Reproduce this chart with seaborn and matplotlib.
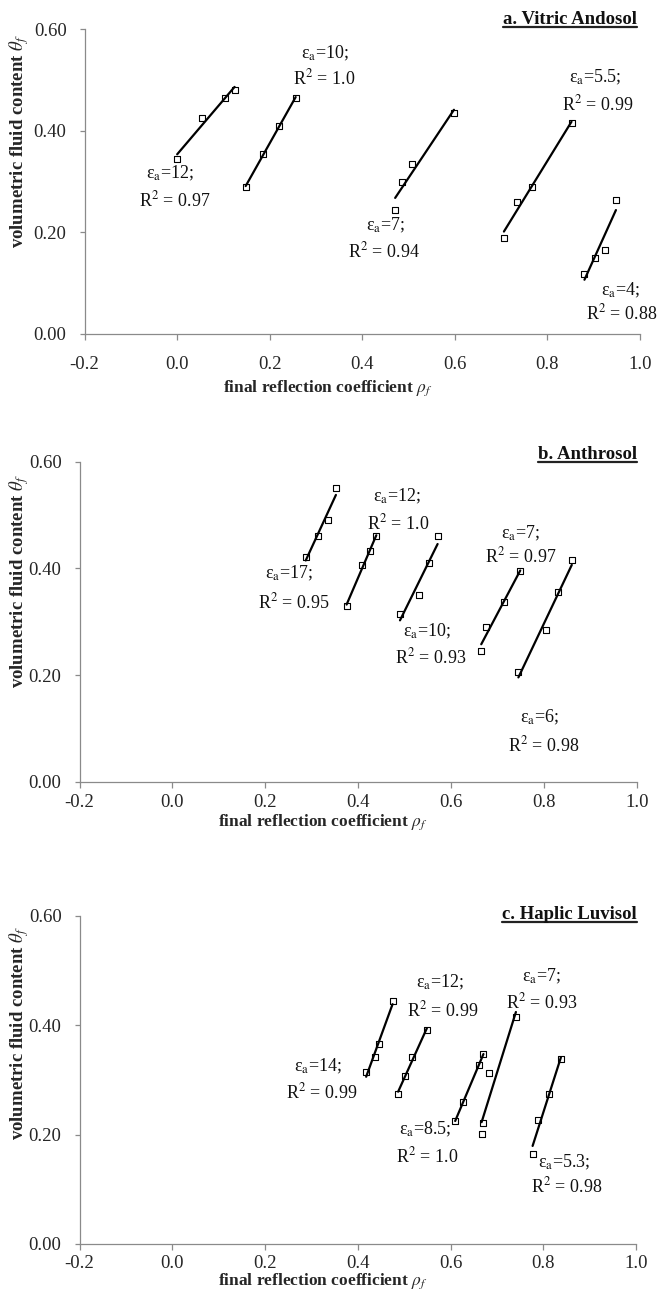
import numpy as np
import pandas as pd
import matplotlib
matplotlib.use("Agg")
import matplotlib.pyplot as plt
from matplotlib.lines import Line2D
from matplotlib.ticker import FormatStrFormatter
import seaborn as sns

# ---------------- data ----------------
a_title = "a. Vitric Andosol"
a_eps = ["12", "10", "7", "5.5", "4"]
a_r2 = ["0.97", "1.0", "0.94", "0.99", "0.88"]
a_x = [[0.000, 0.053, 0.104, 0.124],
       [0.148, 0.186, 0.221, 0.256],
       [0.471, 0.485, 0.507, 0.598],
       [0.706, 0.735, 0.766, 0.852],
       [0.880, 0.902, 0.924, 0.948]]
a_y = [[0.345, 0.425, 0.465, 0.480],
       [0.289, 0.355, 0.410, 0.465],
       [0.244, 0.299, 0.334, 0.435],
       [0.189, 0.260, 0.289, 0.415],
       [0.118, 0.149, 0.164, 0.264]]

b_title = "b. Anthrosol"
b_eps = ["17", "12", "10", "7", "6"]
b_r2 = ["0.95", "1.0", "0.93", "0.97", "0.98"]
b_x = [[0.287, 0.313, 0.335, 0.352],
       [0.375, 0.409, 0.425, 0.439],
       [0.490, 0.531, 0.553, 0.571],
       [0.665, 0.675, 0.715, 0.749],
       [0.745, 0.805, 0.831, 0.860]]
b_y = [[0.421, 0.460, 0.491, 0.550],
       [0.330, 0.406, 0.433, 0.460],
       [0.315, 0.351, 0.411, 0.460],
       [0.245, 0.290, 0.337, 0.396],
       [0.205, 0.285, 0.355, 0.416]]

c_title = "c. Haplic Luvisol"
c_eps = ["14", "12", "8.5", "7", "5.3"]
c_r2 = ["0.99", "0.99", "1.0", "0.93", "0.98"]
c_x = [[0.418, 0.437, 0.446, 0.475],
       [0.487, 0.502, 0.517, 0.549],
       [0.610, 0.627, 0.661, 0.671],
       [0.667, 0.671, 0.684, 0.741],
       [0.777, 0.788, 0.813, 0.838]]
c_y = [[0.314, 0.342, 0.366, 0.444],
       [0.274, 0.308, 0.342, 0.391],
       [0.225, 0.259, 0.328, 0.347],
       [0.201, 0.221, 0.313, 0.415],
       [0.165, 0.226, 0.275, 0.338]]

x_ticks = [-0.2, 0.0, 0.2, 0.4, 0.6, 0.8, 1.0]
y_ticks = [0.0, 0.2, 0.4, 0.6]
x_label = r"final reflection coefficient $\rho_f$"
y_label = r"volumetric fluid content $\theta_f$"

# ---------------- layout (label anchors in data units) ----------------
a_lab = [((-0.015, 0.316), (-0.005, 0.263)), ((0.319, 0.553), (0.318, 0.504)),
         ((0.450, 0.214), (0.447, 0.161)), ((0.903, 0.506), (0.908, 0.452)),
         ((0.957, 0.085), (0.960, 0.039))]
b_lab = [((0.250, 0.391), (0.260, 0.337)), ((0.483, 0.534), (0.486, 0.484)),
         ((0.548, 0.281), (0.555, 0.234)), ((0.749, 0.466), (0.749, 0.422)),
         ((0.790, 0.120), (0.800, 0.069))]
c_lab = [((0.315, 0.325), (0.322, 0.278)), ((0.578, 0.478), (0.582, 0.428)),
         ((0.545, 0.209), (0.550, 0.160)), ((0.797, 0.490), (0.797, 0.442)),
         ((0.845, 0.150), (0.850, 0.105))]

W, H = 657, 1307
sns.set_theme(style="white")
plt.rcParams["font.family"] = ["Liberation Serif", "DejaVu Serif"]
plt.rcParams["mathtext.fontset"] = "stix"

fig = plt.figure(figsize=(W / 100, H / 100), dpi=100)
GRAY = "#8a8a8a"


def make_axes(left, right, top, bottom):
    return fig.add_axes([left / W, 1 - bottom / H, (right - left) / W, (bottom - top) / H])


panels = [
    dict(xs=a_x, ys=a_y, eps=a_eps, r2=a_r2, lab=a_lab, title=a_title,
         box=(84.6, 640, 29.3, 333.5), xpad=17, xlab_off=55, ylab_top=34, title_base=24),
    dict(xs=b_x, ys=b_y, eps=b_eps, r2=b_r2, lab=b_lab, title=b_title,
         box=(79.6, 636.8, 461.7, 781.7), xpad=7, xlab_off=41, ylab_top=474, title_base=459),
    dict(xs=c_x, ys=c_y, eps=c_eps, r2=c_r2, lab=c_lab, title=c_title,
         box=(79.6, 636, 916, 1244), xpad=5, xlab_off=37, ylab_top=926, title_base=919),
]

titles = []
for p in panels:
    left, right, top, bottom = p["box"]
    ax = make_axes(left, right, top, bottom)
    wpx, hpx = right - left, bottom - top
    for xs, ys in zip(p["xs"], p["ys"]):
        sns.scatterplot(x=xs, y=ys, ax=ax, marker="s", s=14, color="white",
                        edgecolor="black", linewidth=0.8, zorder=2)
        sns.regplot(x=np.array(xs), y=np.array(ys), ax=ax, ci=None, truncate=True,
                    scatter=False, color="black", line_kws=dict(lw=1.6, zorder=3))
    for (e_pos, r_pos), e, r in zip(p["lab"], p["eps"], p["r2"]):
        ax.text(e_pos[0], e_pos[1], "\u03b5$_\\mathrm{a}$=" + e + ";", ha="center",
                va="center", fontsize=13, color="#111111")
        ax.text(r_pos[0], r_pos[1], "R$^{2}$ = " + r, ha="center", va="center",
                fontsize=13, color="#111111")
    ax.set_xlim(-0.2, 1.0)
    ax.set_ylim(0.0, 0.6)
    ax.set_xticks(x_ticks)
    ax.set_yticks(y_ticks)
    ax.xaxis.set_major_formatter(FormatStrFormatter("%.1f"))
    ax.yaxis.set_major_formatter(FormatStrFormatter("%.2f"))
    for s in ["top", "right"]:
        ax.spines[s].set_visible(False)
    for s in ["left", "bottom"]:
        ax.spines[s].set_color(GRAY)
        ax.spines[s].set_linewidth(0.9)
    ax.tick_params(axis="x", direction="out", length=4, width=0.9, color=GRAY,
                   pad=p["xpad"] * 0.72, labelsize=13.5, bottom=True)
    ax.tick_params(axis="y", direction="out", length=3.5, width=0.9, color=GRAY,
                   pad=9.5, labelsize=13.5, left=True)
    ax.set_xlabel(x_label, fontsize=12.5, fontweight="bold")
    ax.xaxis.set_label_coords(0.437, -p["xlab_off"] / hpx)
    ax.xaxis.label.set_va("center")
    ax.set_ylabel(y_label, fontsize=13.5, fontweight="bold")
    ax.yaxis.set_label_coords((19 - left) / wpx, 1 - (p["ylab_top"] - top) / hpx)
    ax.yaxis.label.set_rotation_mode("anchor")
    ax.yaxis.label.set_ha("right")
    ax.yaxis.label.set_va("center")
    t = fig.text(637 / W, 1 - p["title_base"] / H, p["title"], ha="right", va="baseline",
                 fontsize=13.5, fontweight="bold", color="#111111")
    titles.append((t, p["title_base"]))

fig.canvas.draw()
renderer = fig.canvas.get_renderer()
for t, base in titles:
    bb = t.get_window_extent(renderer)
    yline = 1 - (base + 3) / H
    fig.add_artist(Line2D([bb.x0 / W, bb.x1 / W], [yline, yline],
                          transform=fig.transFigure, color="#222222", lw=1.6))

fig.savefig("out.png", dpi=100)
